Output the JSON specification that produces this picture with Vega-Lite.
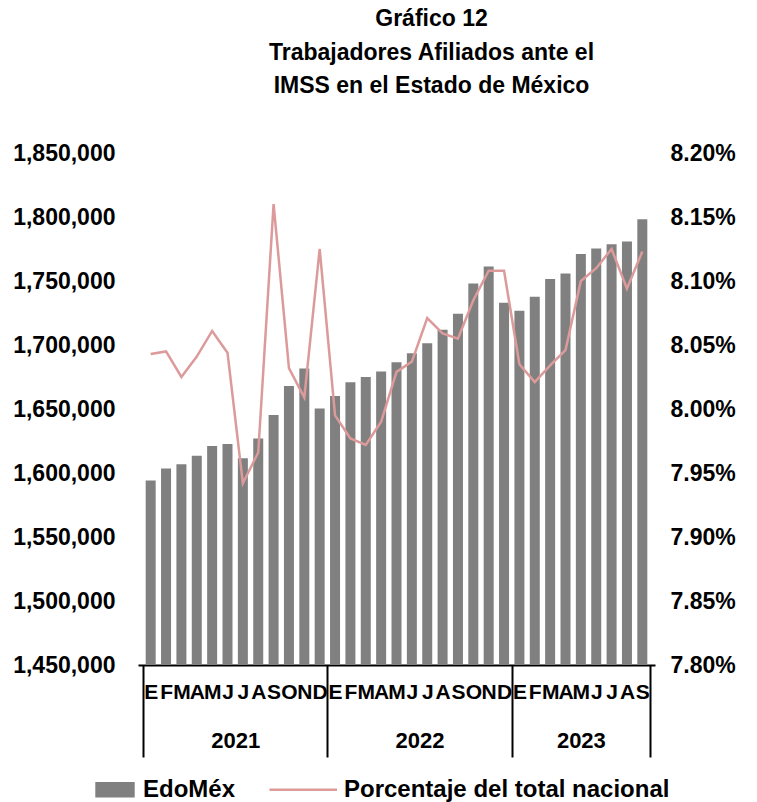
{
  "$schema": "https://vega.github.io/schema/vega-lite/v6.json",
  "autosize": {"type": "none"},
  "width": 517,
  "height": 512,
  "padding": {"left": 138, "top": 153, "right": 102, "bottom": 137},
  "background": "white",
  "config": {"font": "Liberation Sans", "view": {"stroke": null}},
  "title": {
    "text": ["Gráfico 12", "Trabajadores Afiliados ante el", "IMSS en el Estado de México"],
    "fontSize": 23, "fontWeight": "bold", "lineHeight": 33.5, "color": "black",
    "anchor": "middle", "frame": "group", "dx": 35, "offset": 44
  },
  "data": {"values": [
    {"idx": 0, "year": 2021, "month": "E", "edomex": 1594100, "pct": 0.08043},
    {"idx": 1, "year": 2021, "month": "F", "edomex": 1603600, "pct": 0.08045},
    {"idx": 2, "year": 2021, "month": "M", "edomex": 1606800, "pct": 0.08025},
    {"idx": 3, "year": 2021, "month": "A", "edomex": 1613500, "pct": 0.08041},
    {"idx": 4, "year": 2021, "month": "M", "edomex": 1621100, "pct": 0.08061},
    {"idx": 5, "year": 2021, "month": "J", "edomex": 1622700, "pct": 0.08044},
    {"idx": 6, "year": 2021, "month": "J", "edomex": 1611600, "pct": 0.07942},
    {"idx": 7, "year": 2021, "month": "A", "edomex": 1627000, "pct": 0.07966},
    {"idx": 8, "year": 2021, "month": "S", "edomex": 1645300, "pct": 0.08160},
    {"idx": 9, "year": 2021, "month": "O", "edomex": 1667900, "pct": 0.08032},
    {"idx": 10, "year": 2021, "month": "N", "edomex": 1681700, "pct": 0.08009},
    {"idx": 11, "year": 2021, "month": "D", "edomex": 1650400, "pct": 0.08125},
    {"idx": 12, "year": 2022, "month": "E", "edomex": 1660100, "pct": 0.07995},
    {"idx": 13, "year": 2022, "month": "F", "edomex": 1670900, "pct": 0.07977},
    {"idx": 14, "year": 2022, "month": "M", "edomex": 1675000, "pct": 0.07972},
    {"idx": 15, "year": 2022, "month": "A", "edomex": 1679300, "pct": 0.07990},
    {"idx": 16, "year": 2022, "month": "M", "edomex": 1686500, "pct": 0.08029},
    {"idx": 17, "year": 2022, "month": "J", "edomex": 1693500, "pct": 0.08037},
    {"idx": 18, "year": 2022, "month": "J", "edomex": 1701400, "pct": 0.08071},
    {"idx": 19, "year": 2022, "month": "A", "edomex": 1711900, "pct": 0.08059},
    {"idx": 20, "year": 2022, "month": "S", "edomex": 1724500, "pct": 0.08055},
    {"idx": 21, "year": 2022, "month": "O", "edomex": 1748000, "pct": 0.08085},
    {"idx": 22, "year": 2022, "month": "N", "edomex": 1761400, "pct": 0.08108},
    {"idx": 23, "year": 2022, "month": "D", "edomex": 1733100, "pct": 0.08108},
    {"idx": 24, "year": 2023, "month": "E", "edomex": 1726700, "pct": 0.08035},
    {"idx": 25, "year": 2023, "month": "F", "edomex": 1737700, "pct": 0.08021},
    {"idx": 26, "year": 2023, "month": "M", "edomex": 1751500, "pct": 0.08034},
    {"idx": 27, "year": 2023, "month": "A", "edomex": 1755800, "pct": 0.08046},
    {"idx": 28, "year": 2023, "month": "M", "edomex": 1771100, "pct": 0.08100},
    {"idx": 29, "year": 2023, "month": "J", "edomex": 1775400, "pct": 0.08110},
    {"idx": 30, "year": 2023, "month": "J", "edomex": 1778700, "pct": 0.08125},
    {"idx": 31, "year": 2023, "month": "A", "edomex": 1780800, "pct": 0.08094},
    {"idx": 32, "year": 2023, "month": "S", "edomex": 1798300, "pct": 0.08123}
  ]},
  "resolve": {"scale": {"y": "independent"}, "axis": {"x": "independent"}},
  "layer": [
    {
      "mark": {"type": "bar", "color": "#808080", "width": 10, "clip": true},
      "encoding": {
        "x": {
          "field": "idx", "type": "quantitative",
          "scale": {"domain": [-0.5, 32.5], "nice": false, "zero": false},
          "axis": {
            "orient": "bottom", "title": null,
            "values": [0,1,2,3,4,5,6,7,8,9,10,11,12,13,14,15,16,17,18,19,20,21,22,23,24,25,26,27,28,29,30,31,32],
            "labelExpr": "['E','F','M','A','M','J','J','A','S','O','N','D'][datum.value % 12]",
            "ticks": false, "grid": false,
            "domain": true, "domainColor": "black", "domainWidth": 2,
            "labelFontSize": 21, "labelFontWeight": "bold", "labelColor": "black", "labelPadding": 16,
            "labelOverlap": false, "labelFlush": false, "labelBound": false
          }
        },
        "y": {
          "field": "edomex", "type": "quantitative",
          "scale": {"domain": [1450000, 1850000], "nice": false, "zero": false},
          "axis": {
            "orient": "left", "title": null, "format": ",.0f",
            "values": [1450000, 1500000, 1550000, 1600000, 1650000, 1700000, 1750000, 1800000, 1850000],
            "ticks": false, "domain": false, "grid": false,
            "labelFontSize": 23, "labelFontWeight": "bold", "labelColor": "black", "labelPadding": 23
          }
        },
        "color": {
          "datum": "EdoMéx", "type": "nominal",
          "scale": {"domain": ["EdoMéx", "Porcentaje del total nacional"], "range": ["#808080", "#dc9a9a"]},
          "legend": {
            "orient": "none", "legendX": -39.5, "legendY": 620, "direction": "horizontal",
            "title": null, "labelFontSize": 24, "labelFontWeight": "bold", "labelColor": "black",
            "labelLimit": 600,
            "symbolSize": 900, "labelOffset": 11.5, "columnPadding": 29,
            "encode": {
              "symbols": {"update": {
                "shape": {"signal": "datum.label == 'EdoMéx' ? 'M-1.23,-0.43H1.23V0.43H-1.23Z' : 'M-3.1,0H1.4'"},
                "fill": {"signal": "datum.label == 'EdoMéx' ? '#808080' : 'transparent'"},
                "stroke": {"signal": "datum.label == 'EdoMéx' ? 'transparent' : '#dc9a9a'"},
                "strokeWidth": {"value": 2.5},
                "opacity": {"value": 1},
                "size": {"value": 900}
              }}
            }
          }
        }
      }
    },
    {
      "mark": {"type": "line", "strokeWidth": 2.5},
      "encoding": {
        "x": {
          "field": "idx", "type": "quantitative",
          "scale": {"domain": [-0.5, 32.5], "nice": false, "zero": false},
          "axis": {
            "orient": "bottom", "title": null,
            "values": [-0.5, 5.5, 11.5, 17.5, 23.5, 28, 32.5],
            "labelExpr": "datum.value == 5.5 ? '2021' : datum.value == 17.5 ? '2022' : datum.value == 28 ? '2023' : ''",
            "ticks": true, "tickSize": 92, "tickWidth": 2,
            "tickColor": {"condition": {"test": "datum.value == 5.5 || datum.value == 17.5 || datum.value == 28", "value": "transparent"}, "value": "black"},
            "domain": false, "grid": false,
            "labelFontSize": 22, "labelFontWeight": "bold", "labelColor": "black", "labelPadding": -27,
            "labelOverlap": false, "labelFlush": false, "labelBound": false
          }
        },
        "y": {
          "field": "pct", "type": "quantitative",
          "scale": {"domain": [0.078, 0.082], "nice": false, "zero": false},
          "axis": {
            "orient": "right", "title": null, "format": ".2%",
            "values": [0.078, 0.0785, 0.079, 0.0795, 0.08, 0.0805, 0.081, 0.0815, 0.082],
            "ticks": false, "domain": false, "grid": false,
            "labelFontSize": 23, "labelFontWeight": "bold", "labelColor": "black", "labelPadding": 15
          }
        },
        "color": {"datum": "Porcentaje del total nacional", "type": "nominal"}
      }
    }
  ]
}
